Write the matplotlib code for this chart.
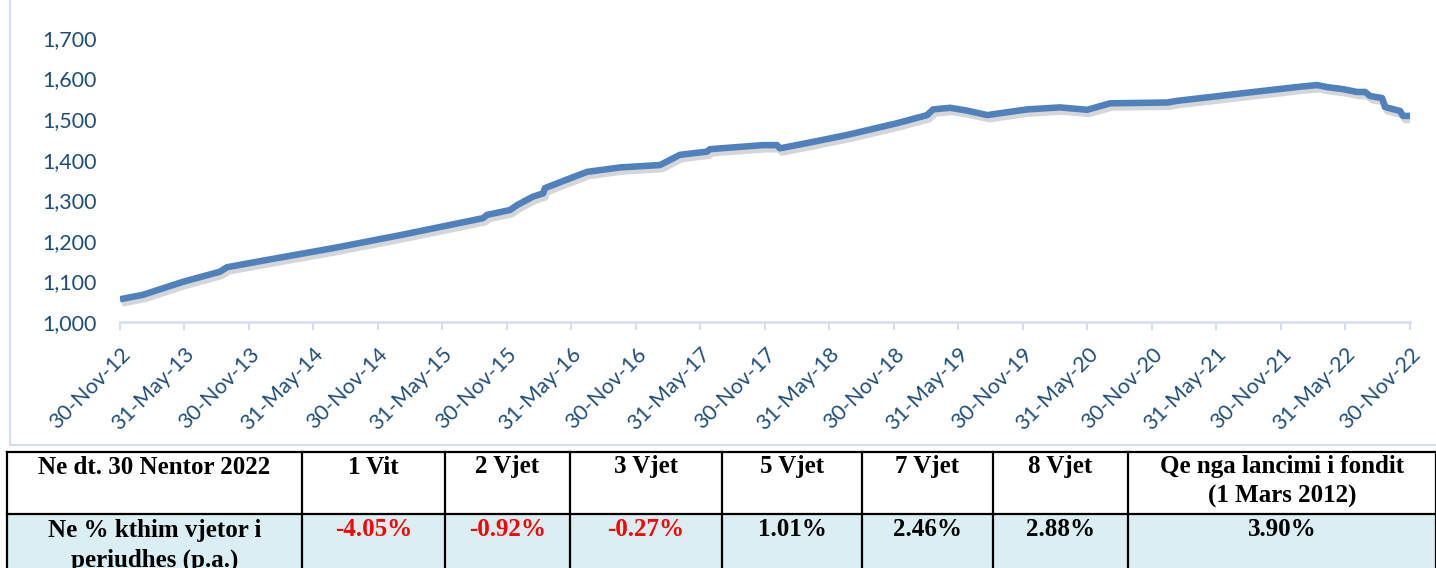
import matplotlib
matplotlib.use("Agg")
import matplotlib.pyplot as plt
import matplotlib.patheffects as pe
from matplotlib.patches import Rectangle
import pandas as pd

# ---------------- data ----------------
dates = ["2012-11-30", "2013-02-03", "2013-05-27", "2013-09-09", "2013-09-29",
         "2014-01-20", "2014-07-26", "2015-02-01", "2015-09-24", "2015-10-05",
         "2015-12-09", "2015-12-29", "2016-02-12", "2016-03-12", "2016-03-17",
         "2016-05-27", "2016-07-14", "2016-10-16", "2017-02-06", "2017-04-03",
         "2017-06-19", "2017-06-27", "2017-11-24", "2018-01-03", "2018-01-11",
         "2018-04-15", "2018-07-20", "2018-12-09", "2019-03-04", "2019-03-21",
         "2019-05-08", "2019-06-25", "2019-08-21", "2019-12-12", "2020-03-14",
         "2020-05-30", "2020-08-03", "2021-01-11", "2021-02-08", "2021-06-07",
         "2021-09-03", "2022-01-23", "2022-03-12", "2022-04-09", "2022-05-24",
         "2022-07-03", "2022-07-26", "2022-08-09", "2022-09-12", "2022-09-20",
         "2022-11-02", "2022-11-10", "2022-11-30"]
values = [1056, 1067, 1099, 1124, 1135,
          1153, 1182, 1214, 1256, 1264,
          1276, 1288, 1309, 1317, 1330,
          1354, 1370, 1381, 1387, 1412,
          1420, 1426, 1436, 1436, 1428,
          1444, 1461, 1490, 1510, 1524,
          1528, 1521, 1510, 1524, 1529,
          1523, 1539, 1541, 1545, 1557,
          1566, 1580, 1584, 1579, 1574,
          1567, 1567, 1557, 1552, 1530,
          1520, 1508, 1508]

tick_dates = ["2012-11-30", "2013-05-31", "2013-11-30", "2014-05-31", "2014-11-30",
              "2015-05-31", "2015-11-30", "2016-05-31", "2016-11-30", "2017-05-31",
              "2017-11-30", "2018-05-31", "2018-11-30", "2019-05-31", "2019-11-30",
              "2020-05-31", "2020-11-30", "2021-05-31", "2021-11-30", "2022-05-31",
              "2022-11-30"]
tick_labels = ["30-Nov-12", "31-May-13", "30-Nov-13", "31-May-14", "30-Nov-14",
               "31-May-15", "30-Nov-15", "31-May-16", "30-Nov-16", "31-May-17",
               "30-Nov-17", "31-May-18", "30-Nov-18", "31-May-19", "30-Nov-19",
               "31-May-20", "30-Nov-20", "31-May-21", "30-Nov-21", "31-May-22",
               "30-Nov-22"]
y_ticks = [1000, 1100, 1200, 1300, 1400, 1500, 1600, 1700]
y_labels = ["1,000", "1,100", "1,200", "1,300", "1,400", "1,500", "1,600", "1,700"]

table_header = ["Ne dt. 30 Nentor 2022", "1 Vit", "2 Vjet", "3 Vjet", "5 Vjet",
                "7 Vjet", "8 Vjet", "Qe nga lancimi i fondit\n(1 Mars 2012)"]
row_label = "Ne % kthim vjetor i\nperiudhes (p.a.)"
returns = ["-4.05%", "-0.92%", "-0.27%", "1.01%", "2.46%", "2.88%", "3.90%"]

# ---------------- figure ----------------
W, H = 1436, 568
fig = plt.figure(figsize=(W / 100, H / 100), dpi=100)

bg = fig.add_axes([0, 0, 1, 1])
bg.set_xlim(0, W)
bg.set_ylim(H, 0)
bg.axis("off")

# chart frame
bg.add_patch(Rectangle((10, -5), W + 10, 450, fill=False, ec="#D3DEEE", lw=1.5))

# main chart axes
ax_l, ax_r = 120 / W, 1410 / W
ax_b, ax_t = (H - 322) / H, (H - 38) / H
ax = fig.add_axes([ax_l, ax_b, ax_r - ax_l, ax_t - ax_b])
ax.patch.set_alpha(0)

x = pd.to_datetime(dates)
ax.plot(x, values, color="#4F81BD", lw=4.7, solid_capstyle="butt", solid_joinstyle="round",
        path_effects=[pe.SimpleLineShadow(offset=(1.5, -3), shadow_color="black", alpha=0.16),
                      pe.Normal()])

ax.set_ylim(1000, 1700)
ax.set_xlim(pd.Timestamp(tick_dates[0]), pd.Timestamp(tick_dates[-1]))
ax.set_yticks(y_ticks)
ax.set_yticklabels(y_labels)
ax.set_xticks(pd.to_datetime(tick_dates))
ax.set_xticklabels(tick_labels)

for s in ["top", "right", "left"]:
    ax.spines[s].set_visible(False)
ax.spines["bottom"].set_color("#D3DEEE")
ax.spines["bottom"].set_linewidth(1.8)

lab_col = "#1F4E79"
ax.tick_params(axis="y", length=0, pad=17, labelsize=15.5, labelcolor=lab_col)
ax.tick_params(axis="x", length=6, width=1.5, color="#D3DEEE", direction="out",
               pad=10, labelsize=15.5, labelcolor=lab_col)
for lbl in ax.get_xticklabels():
    lbl.set_rotation(45)
    lbl.set_ha("right")
    lbl.set_va("top")
    lbl.set_rotation_mode("anchor")
for lbl in ax.get_xticklabels() + ax.get_yticklabels():
    lbl.set_fontfamily("Lato")

# ---------------- table ----------------
col_x = [7, 302, 445, 570, 722, 862, 993, 1128, 1436]
row_y = [452, 514, 600]
bg.add_patch(Rectangle((col_x[0], row_y[1]), col_x[-1] - col_x[0], row_y[2] - row_y[1],
                       fc="#DAEEF3", ec="none", zorder=1))
for xx in col_x:
    bg.plot([xx, xx], [row_y[0], row_y[2]], color="black", lw=1.6, zorder=3)
for yy in row_y[:2]:
    bg.plot([col_x[0], col_x[-1]], [yy, yy], color="black", lw=1.6, zorder=3)

serif = "Liberation Serif"
fs = 18
for i, txt in enumerate(table_header):
    cx = (col_x[i] + col_x[i + 1]) / 2
    bg.text(cx, 467, txt.split("\n")[0], ha="center", va="center", fontsize=fs,
            fontweight="bold", family=serif, zorder=4)
    if "\n" in txt:
        bg.text(cx, 496, txt.split("\n")[1], ha="center", va="center", fontsize=fs,
                fontweight="bold", family=serif, zorder=4)
lines = row_label.split("\n")
cx0 = (col_x[0] + col_x[1]) / 2
bg.text(cx0, 530, lines[0], ha="center", va="center", fontsize=fs,
        fontweight="bold", family=serif, zorder=4)
bg.text(cx0, 560, lines[1], ha="center", va="center", fontsize=fs,
        fontweight="bold", family=serif, zorder=4)
for i, txt in enumerate(returns):
    cx = (col_x[i + 1] + col_x[i + 2]) / 2
    col = "#FF0000" if txt.startswith("-") else "black"
    bg.text(cx, 530, txt, ha="center", va="center", fontsize=fs, fontweight="bold",
            family=serif, color=col, zorder=4)

fig.savefig("out.png", dpi=100)
